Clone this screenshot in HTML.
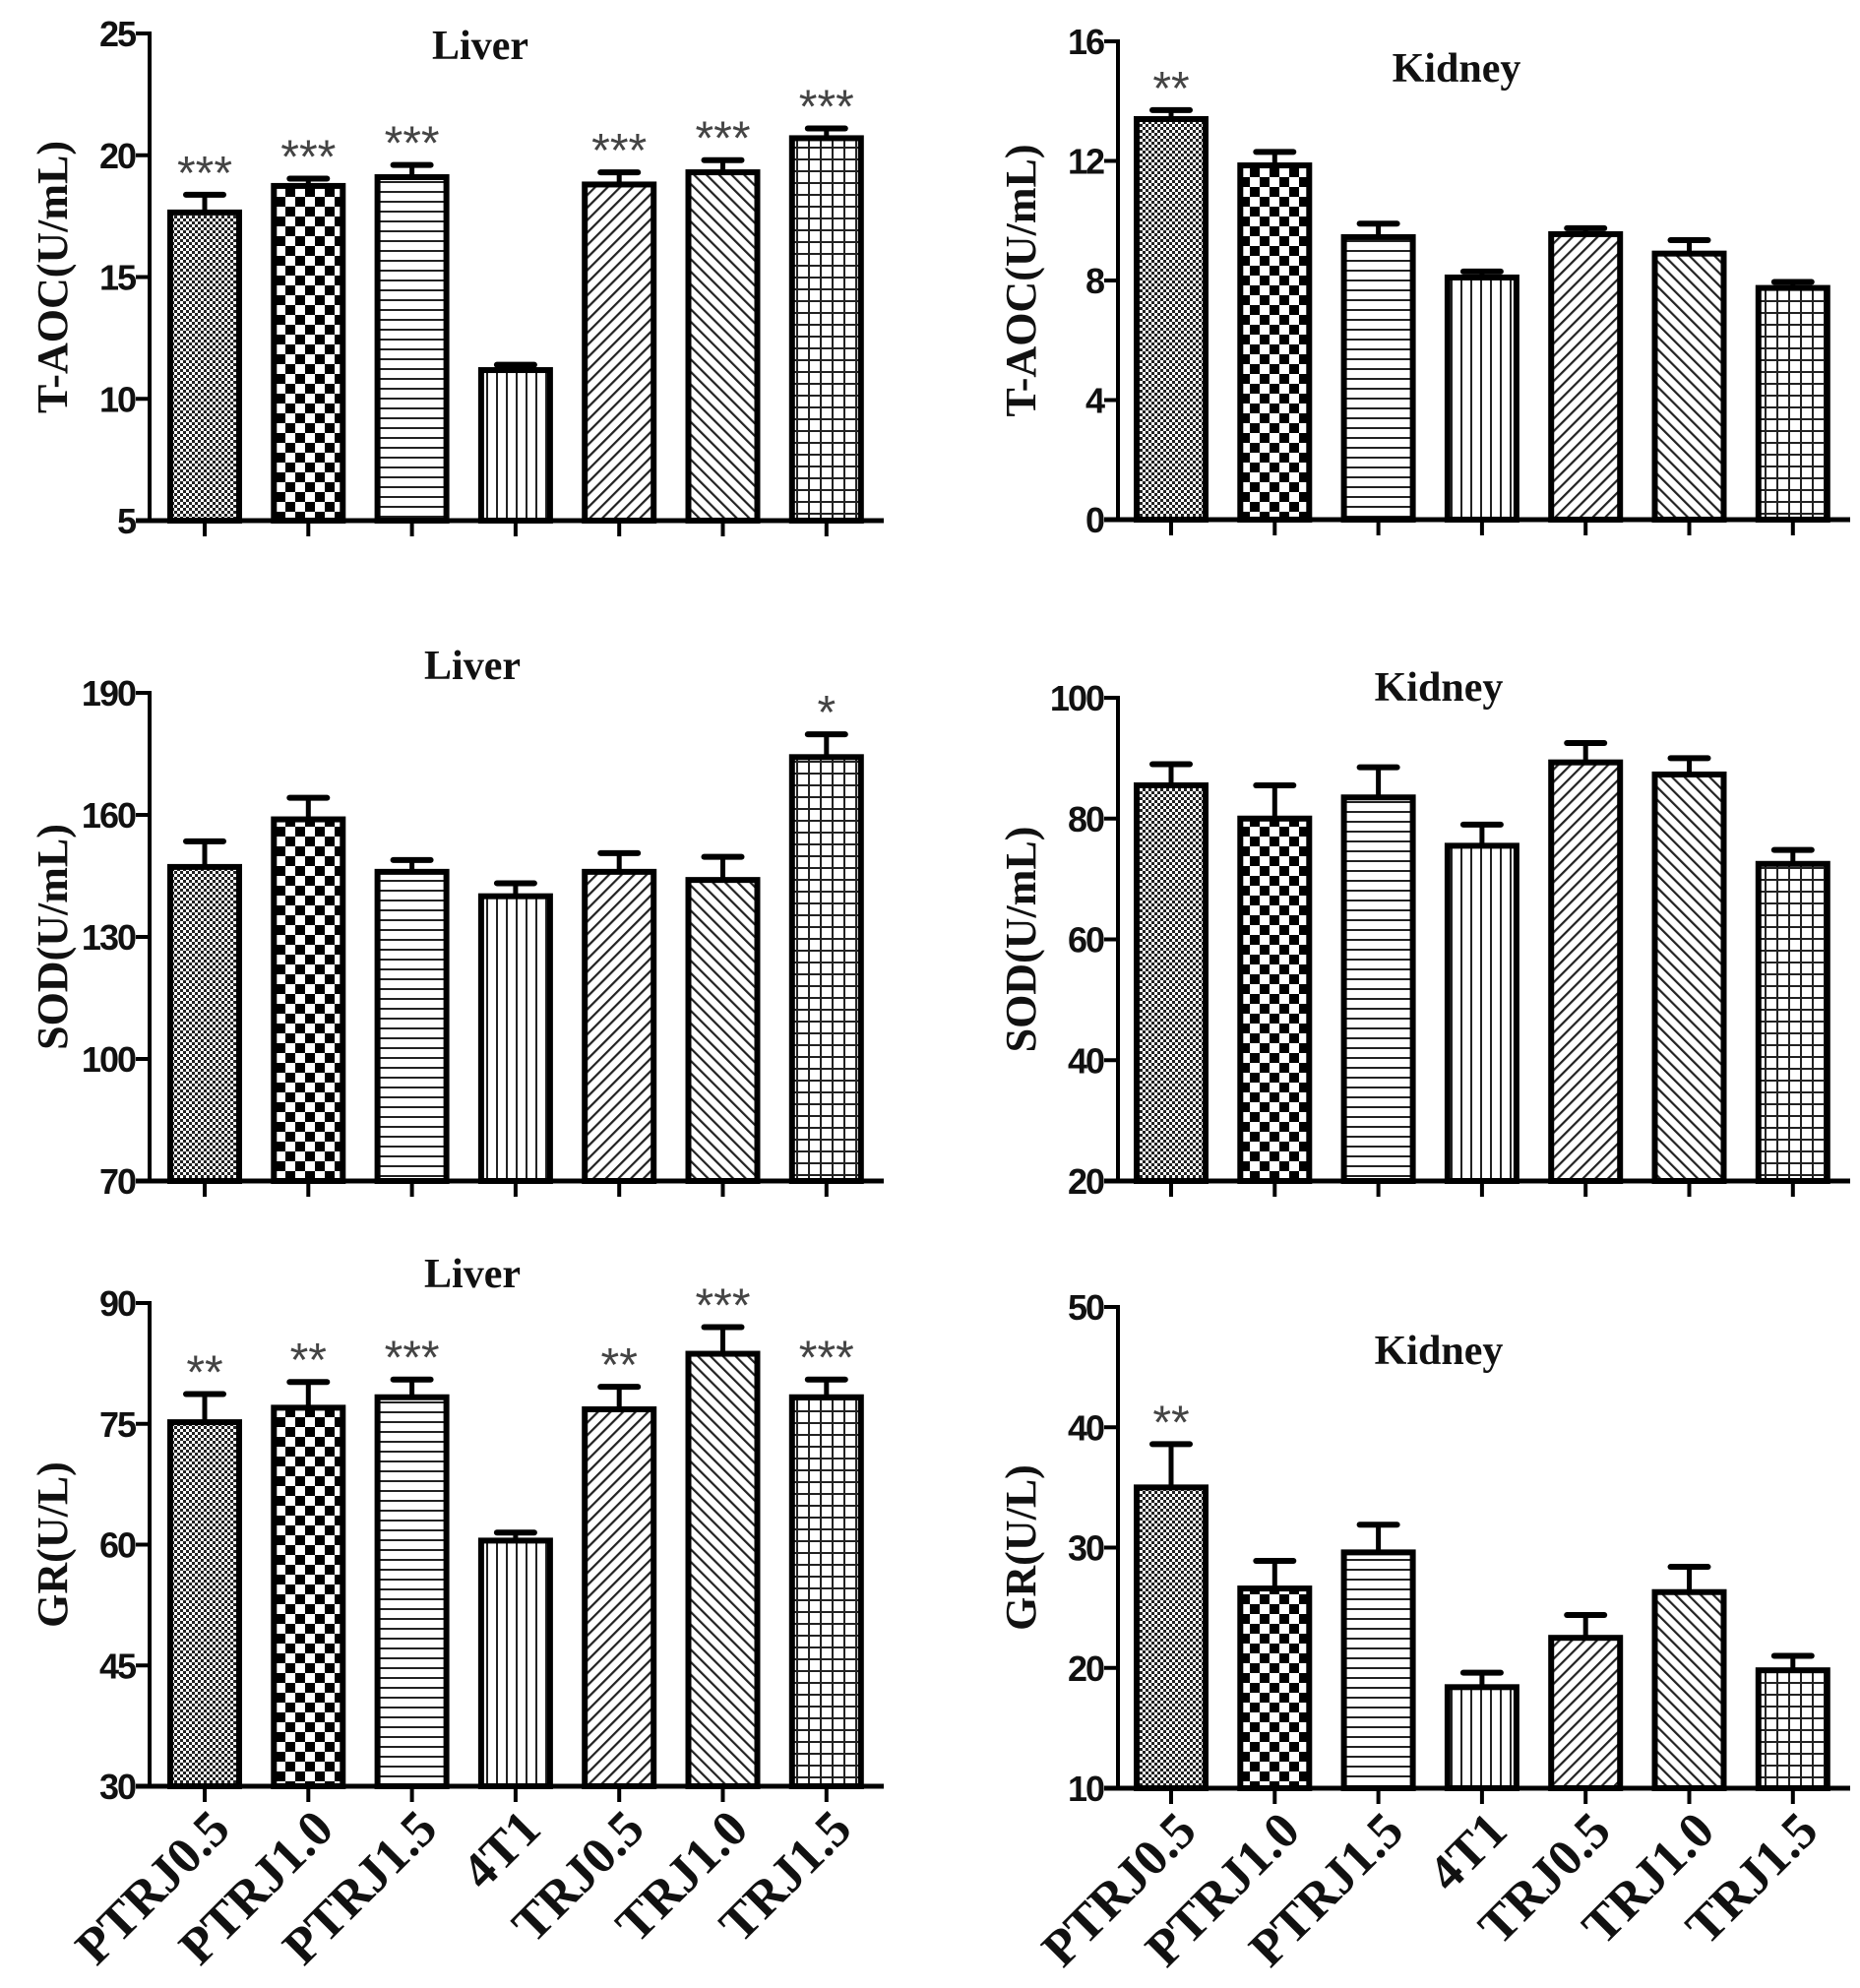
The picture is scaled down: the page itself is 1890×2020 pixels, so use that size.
<!DOCTYPE html>
<html><head><meta charset="utf-8"><style>
html,body{margin:0;padding:0;background:#fff;}
svg{display:block;}
.tick{font-family:"Liberation Sans",sans-serif;font-weight:bold;font-size:36px;letter-spacing:-2px;fill:#111;}
.ttl{font-family:"Liberation Serif",serif;font-weight:bold;font-size:42px;fill:#111;}
.ylab{font-family:"Liberation Serif",serif;font-weight:bold;font-size:44px;fill:#111;}
.cat{font-family:"Liberation Serif",serif;font-weight:bold;font-size:52px;fill:#111;}
.star{font-family:"Liberation Sans",sans-serif;font-size:48px;fill:#444;}
</style></head><body>
<svg id="fig" width="1890" height="2020" viewBox="0 0 1890 2020" xmlns="http://www.w3.org/2000/svg">
<defs>
<pattern id="p0" width="6" height="6" patternUnits="userSpaceOnUse"><rect width="6" height="6" fill="#fff"/><rect width="3" height="3" fill="#222"/><rect x="3" y="3" width="3" height="3" fill="#222"/></pattern>
<pattern id="p1" width="20" height="20" patternUnits="userSpaceOnUse"><rect width="20" height="20" fill="#fff"/><rect width="10" height="10" fill="#000"/><rect x="10" y="10" width="10" height="10" fill="#000"/></pattern>
<pattern id="p2" width="10" height="10" patternUnits="userSpaceOnUse"><rect width="10" height="10" fill="#fff"/><rect y="4" width="10" height="2" fill="#222"/></pattern>
<pattern id="p3" width="10" height="10" patternUnits="userSpaceOnUse"><rect width="10" height="10" fill="#fff"/><rect x="4" width="2" height="10" fill="#222"/></pattern>
<pattern id="p4" width="9" height="9" patternUnits="userSpaceOnUse" patternTransform="rotate(45)"><rect width="9" height="9" fill="#fff"/><rect x="3" width="2.2" height="9" fill="#222"/></pattern>
<pattern id="p5" width="9" height="9" patternUnits="userSpaceOnUse" patternTransform="rotate(-45)"><rect width="9" height="9" fill="#fff"/><rect x="3" width="2.2" height="9" fill="#222"/></pattern>
<pattern id="p6" width="12" height="12" patternUnits="userSpaceOnUse"><rect width="12" height="12" fill="#fff"/><rect y="5" width="12" height="2" fill="#222"/><rect x="5" width="2" height="12" fill="#222"/></pattern>
</defs>
</svg>
<script>
const categories=["PTRJ0.5","PTRJ1.0","PTRJ1.5","4T1","TRJ0.5","TRJ1.0","TRJ1.5"];
const taocLiver=[17.65,18.74,19.1,11.18,18.8,19.3,20.7];
const taocLiverErr=[0.73,0.3,0.5,0.22,0.5,0.5,0.4];
const taocLiverStars=["***","***","***","","***","***","***"];
const taocKidney=[13.4,11.85,9.45,8.1,9.55,8.9,7.75];
const taocKidneyErr=[0.3,0.45,0.45,0.2,0.2,0.45,0.2];
const taocKidneyStars=["**","","","","","",""];
const sodLiver=[147.2,158.9,146,140,146,144,174.2];
const sodLiverErr=[6.3,5.3,2.9,3.2,4.6,5.7,5.6];
const sodLiverStars=["","","","","","","*"];
const sodKidney=[85.5,80,83.5,75.5,89.3,87.3,72.5];
const sodKidneyErr=[3.5,5.5,5,3.5,3.2,2.7,2.3];
const sodKidneyStars=["","","","","","",""];
const grLiver=[75.2,77,78.3,60.5,76.8,83.7,78.3];
const grLiverErr=[3.5,3.2,2.2,1,2.8,3.3,2.2];
const grLiverStars=["**","**","***","","**","***","***"];
const grKidney=[35,26.6,29.6,18.4,22.5,26.3,19.8];
const grKidneyErr=[3.6,2.3,2.3,1.2,1.9,2.1,1.2];
const grKidneyStars=["**","","","","","",""];
const taocLiverTicks=[5,10,15,20,25];
const taocKidneyTicks=[0,4,8,12,16];
const sodLiverTicks=[70,100,130,160,190];
const sodKidneyTicks=[20,40,60,80,100];
const grLiverTicks=[30,45,60,75,90];
const grKidneyTicks=[10,20,30,40,50];

const NS="http://www.w3.org/2000/svg";
const svg=document.getElementById('fig');
function mk(tag,attrs,parent,text){const e=document.createElementNS(NS,tag);for(const k in attrs)e.setAttribute(k,attrs[k]);if(text!==undefined)e.textContent=text;(parent||svg).appendChild(e);return e;}

const panels=[
 {id:"taoc-liver",vals:taocLiver,err:taocLiverErr,stars:taocLiverStars,ticks:taocLiverTicks,ax:152,xe:898,top:34,bot:529,c0:208,title:"Liver",tx:488,ty:60,ylab:"T-AOC(U/mL)",lx:68,cats:false},
 {id:"taoc-kidney",vals:taocKidney,err:taocKidneyErr,stars:taocKidneyStars,ticks:taocKidneyTicks,ax:1136,xe:1880,top:42,bot:528,c0:1190,title:"Kidney",tx:1480,ty:83,ylab:"T-AOC(U/mL)",lx:1052,cats:false},
 {id:"sod-liver",vals:sodLiver,err:sodLiverErr,stars:sodLiverStars,ticks:sodLiverTicks,ax:152,xe:898,top:704,bot:1200,c0:208,title:"Liver",tx:480,ty:690,ylab:"SOD(U/mL)",lx:68,cats:false},
 {id:"sod-kidney",vals:sodKidney,err:sodKidneyErr,stars:sodKidneyStars,ticks:sodKidneyTicks,ax:1136,xe:1880,top:709,bot:1200,c0:1190,title:"Kidney",tx:1462,ty:712,ylab:"SOD(U/mL)",lx:1052,cats:false},
 {id:"gr-liver",vals:grLiver,err:grLiverErr,stars:grLiverStars,ticks:grLiverTicks,ax:152,xe:898,top:1324,bot:1815,c0:208,title:"Liver",tx:480,ty:1308,ylab:"GR(U/L)",lx:68,cats:true},
 {id:"gr-kidney",vals:grKidney,err:grKidneyErr,stars:grKidneyStars,ticks:grKidneyTicks,ax:1136,xe:1880,top:1328,bot:1817,c0:1190,title:"Kidney",tx:1462,ty:1386,ylab:"GR(U/L)",lx:1052,cats:true}
];
const step=105.3, bw=70;

panels.forEach(p=>{
  const g=mk('g',{});
  
  
  const t0=p.ticks[0], t1=p.ticks[p.ticks.length-1];
  const y=v=>p.bot-(v-t0)/(t1-t0)*(p.bot-p.top);
  const x=i=>p.c0+i*step;
  const tt=mk('text',{x:p.tx,y:p.ty,'text-anchor':'middle',class:'ttl'},g,p.title);
  
  
  const cy=(p.top+p.bot)/2;
  const yl=mk('text',{x:p.lx,y:cy,'text-anchor':'middle',class:'ylab',transform:`rotate(-90 ${p.lx} ${cy})`},g,p.ylab);
  
  
  p.vals.forEach((v,i)=>{
    const cx=x(i), ty=y(v), et=y(v+p.err[i]);
    mk('line',{x1:cx,y1:ty,x2:cx,y2:et,stroke:'#000','stroke-width':5},g);
    mk('line',{x1:cx-19,y1:et,x2:cx+19,y2:et,stroke:'#000','stroke-width':6,'stroke-linecap':'round'},g);
    const r=mk('rect',{x:cx-bw/2,y:ty,width:bw,height:p.bot-ty,fill:`url(#p${i})`,stroke:'#000','stroke-width':6},g);
    
    
    if(p.stars[i]){
      const s=mk('text',{x:cx,y:et-6,'text-anchor':'middle',class:'star'},g,p.stars[i]);
      
      
    }
    mk('line',{x1:cx,y1:p.bot,x2:cx,y2:p.bot+16,stroke:'#000','stroke-width':4},g);
    if(p.cats){
      const ax=cx+28, ay=p.bot+46;
      const c=mk('text',{x:ax,y:ay,'text-anchor':'end',class:'cat',transform:`rotate(-45 ${ax} ${ay})`},g,categories[i]);
      
      
    }
  });
  mk('line',{x1:p.ax,y1:p.top-2,x2:p.ax,y2:p.bot+2,stroke:'#000','stroke-width':4},g);
  mk('line',{x1:p.ax-14,y1:p.bot,x2:p.xe,y2:p.bot,stroke:'#000','stroke-width':5},g);
  p.ticks.forEach(t=>{
    const ty=y(t);
    mk('line',{x1:p.ax-14,y1:ty,x2:p.ax,y2:ty,stroke:'#000','stroke-width':4},g);
    const tl=mk('text',{x:p.ax-15,y:ty+13,'text-anchor':'end',class:'tick'},g,String(t));
    
    
  });
});
</script>
</body></html>
